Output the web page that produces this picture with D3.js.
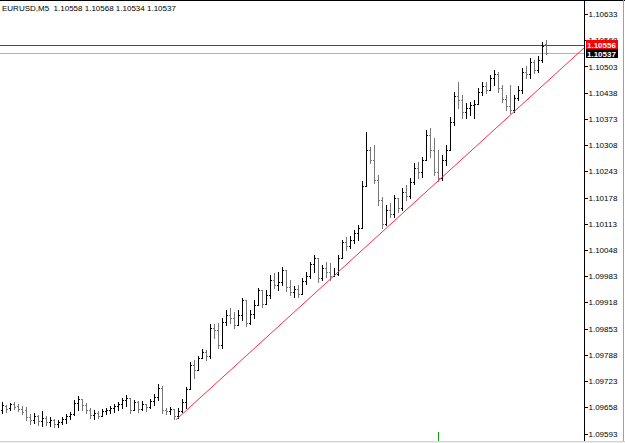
<!DOCTYPE html>
<html>
<head>
<meta charset="utf-8">
<script src="https://cdn.jsdelivr.net/npm/d3@7"></script>
<style>
  body { margin: 0; background: #fff; }
  svg { display: block; }
  text { font-family: "Liberation Sans", Arial, sans-serif; }
</style>
</head>
<body>
<script>
// EURUSD M5 bars
const symbol = "EURUSD,M5";

const opens = [
  1.09651, 1.09661, 1.09656, 1.09666, 1.09661, 1.09654, 1.09651, 1.09634, 1.09626, 1.09636,
  1.09624, 1.09631, 1.09621, 1.09626, 1.09617, 1.09621, 1.09629, 1.09636, 1.09641, 1.09669,
  1.09678, 1.09664, 1.09651, 1.09639, 1.09644, 1.09636, 1.09649, 1.09651, 1.09656, 1.09661,
  1.09666, 1.09676, 1.09681, 1.09651, 1.09671, 1.09654, 1.09666, 1.09659, 1.09673, 1.09683,
  1.09706, 1.09651, 1.09649, 1.09654, 1.09636, 1.09649, 1.09671, 1.09703, 1.09763, 1.09750,
  1.09780, 1.09795, 1.09785, 1.09855, 1.09850, 1.09812, 1.09869, 1.09887, 1.09879, 1.09862,
  1.09887, 1.09924, 1.09867, 1.09889, 1.09912, 1.09949, 1.09914, 1.09936, 1.09974, 1.09961,
  1.09969, 1.09998, 1.09956, 1.09944, 1.09951, 1.09939, 1.09971, 1.09983, 1.10013, 1.10028,
  1.09979, 1.10003, 1.09993, 1.09983, 1.09988, 1.10028, 1.10068, 1.10058, 1.10073, 1.10090,
  1.10103, 1.10207, 1.10296, 1.10271, 1.10222, 1.10172, 1.10112, 1.10147, 1.10137, 1.10177,
  1.10152, 1.10192, 1.10182, 1.10217, 1.10251, 1.10241, 1.10271, 1.10333, 1.10296, 1.10241,
  1.10227, 1.10271, 1.10296, 1.10365, 1.10430, 1.10420, 1.10390, 1.10400, 1.10408, 1.10410,
  1.10440, 1.10455, 1.10445, 1.10475, 1.10484, 1.10450, 1.10422, 1.10405, 1.10395, 1.10425,
  1.10445, 1.10489, 1.10484, 1.10514, 1.10494, 1.10519, 1.10558
];
const highs = [
  1.09671, 1.09664, 1.09669, 1.09671, 1.09666, 1.09661, 1.09659, 1.09641, 1.09644, 1.09639,
  1.09649, 1.09636, 1.09634, 1.09629, 1.09626, 1.09634, 1.09641, 1.09646, 1.09676, 1.09686,
  1.09678, 1.09669, 1.09656, 1.09651, 1.09649, 1.09654, 1.09656, 1.09661, 1.09666, 1.09671,
  1.09681, 1.09688, 1.09681, 1.09676, 1.09673, 1.09673, 1.09666, 1.09678, 1.09691, 1.09716,
  1.09711, 1.09656, 1.09659, 1.09654, 1.09656, 1.09678, 1.09708, 1.09770, 1.09775, 1.09785,
  1.09803, 1.09800, 1.09865, 1.09865, 1.09867, 1.09879, 1.09899, 1.09904, 1.09894, 1.09899,
  1.09929, 1.09924, 1.09899, 1.09924, 1.09954, 1.09949, 1.09949, 1.09986, 1.09991, 1.09993,
  1.10006, 1.09998, 1.09974, 1.09959, 1.09961, 1.09979, 1.09993, 1.10018, 1.10036, 1.10028,
  1.10011, 1.10018, 1.10016, 1.10003, 1.10036, 1.10073, 1.10080, 1.10083, 1.10098, 1.10110,
  1.10219, 1.10341, 1.10303, 1.10308, 1.10234, 1.10179, 1.10160, 1.10165, 1.10184, 1.10177,
  1.10202, 1.10209, 1.10227, 1.10264, 1.10266, 1.10279, 1.10346, 1.10351, 1.10326, 1.10296,
  1.10284, 1.10308, 1.10378, 1.10440, 1.10465, 1.10432, 1.10413, 1.10415, 1.10420, 1.10450,
  1.10465, 1.10465, 1.10482, 1.10494, 1.10489, 1.10457, 1.10432, 1.10457, 1.10432, 1.10455,
  1.10499, 1.10504, 1.10524, 1.10519, 1.10529, 1.10564, 1.10568
];
const lows = [
  1.09644, 1.09646, 1.09651, 1.09654, 1.09649, 1.09641, 1.09626, 1.09617, 1.09619, 1.09614,
  1.09612, 1.09614, 1.09612, 1.09609, 1.09609, 1.09617, 1.09619, 1.09629, 1.09639, 1.09651,
  1.09651, 1.09644, 1.09631, 1.09629, 1.09631, 1.09636, 1.09641, 1.09644, 1.09646, 1.09651,
  1.09656, 1.09661, 1.09644, 1.09651, 1.09646, 1.09651, 1.09649, 1.09656, 1.09664, 1.09676,
  1.09644, 1.09641, 1.09641, 1.09629, 1.09631, 1.09646, 1.09656, 1.09703, 1.09731, 1.09750,
  1.09780, 1.09775, 1.09780, 1.09830, 1.09805, 1.09805, 1.09862, 1.09867, 1.09855, 1.09862,
  1.09874, 1.09860, 1.09865, 1.09879, 1.09912, 1.09907, 1.09914, 1.09929, 1.09954, 1.09949,
  1.09961, 1.09946, 1.09936, 1.09931, 1.09931, 1.09939, 1.09964, 1.09979, 1.09993, 1.09969,
  1.09974, 1.09981, 1.09974, 1.09983, 1.09986, 1.10028, 1.10048, 1.10053, 1.10065, 1.10073,
  1.10103, 1.10207, 1.10264, 1.10214, 1.10160, 1.10103, 1.10110, 1.10130, 1.10130, 1.10142,
  1.10147, 1.10172, 1.10177, 1.10212, 1.10227, 1.10229, 1.10271, 1.10279, 1.10234, 1.10219,
  1.10222, 1.10259, 1.10296, 1.10358, 1.10400, 1.10375, 1.10375, 1.10383, 1.10375, 1.10410,
  1.10432, 1.10437, 1.10445, 1.10457, 1.10440, 1.10415, 1.10395, 1.10388, 1.10390, 1.10420,
  1.10437, 1.10475, 1.10475, 1.10487, 1.10489, 1.10514, 1.10534
];
const closes = [
  1.09664, 1.09654, 1.09666, 1.09659, 1.09654, 1.09646, 1.09634, 1.09626, 1.09636, 1.09624,
  1.09631, 1.09621, 1.09626, 1.09617, 1.09621, 1.09629, 1.09636, 1.09641, 1.09669, 1.09678,
  1.09664, 1.09651, 1.09639, 1.09644, 1.09636, 1.09649, 1.09651, 1.09656, 1.09661, 1.09666,
  1.09676, 1.09681, 1.09651, 1.09671, 1.09654, 1.09666, 1.09659, 1.09673, 1.09683, 1.09706,
  1.09651, 1.09649, 1.09654, 1.09636, 1.09649, 1.09671, 1.09703, 1.09763, 1.09750, 1.09780,
  1.09795, 1.09785, 1.09855, 1.09850, 1.09812, 1.09869, 1.09887, 1.09879, 1.09862, 1.09887,
  1.09924, 1.09867, 1.09889, 1.09912, 1.09949, 1.09914, 1.09936, 1.09974, 1.09961, 1.09969,
  1.09998, 1.09956, 1.09944, 1.09951, 1.09939, 1.09971, 1.09983, 1.10013, 1.10028, 1.09979,
  1.10003, 1.09993, 1.09983, 1.09988, 1.10028, 1.10068, 1.10058, 1.10073, 1.10090, 1.10103,
  1.10207, 1.10296, 1.10271, 1.10222, 1.10172, 1.10112, 1.10147, 1.10137, 1.10177, 1.10152,
  1.10192, 1.10182, 1.10217, 1.10251, 1.10241, 1.10271, 1.10333, 1.10296, 1.10241, 1.10227,
  1.10271, 1.10296, 1.10365, 1.10430, 1.10420, 1.10390, 1.10400, 1.10408, 1.10410, 1.10440,
  1.10455, 1.10445, 1.10475, 1.10484, 1.10450, 1.10422, 1.10405, 1.10395, 1.10425, 1.10445,
  1.10489, 1.10484, 1.10514, 1.10494, 1.10519, 1.10554, 1.10537
];

// price scale labels
const priceTicks = [
  1.10633, 1.10568, 1.10503, 1.10438, 1.10373, 1.10308, 1.10243, 1.10178, 1.10113,
  1.10048, 1.09983, 1.09918, 1.09853, 1.09788, 1.09723, 1.09658, 1.09593
];

const askPrice = 1.10556;
const bidPrice = 1.10537;

// trend line anchors (bar index, price), drawn as a ray to the right
const trendIdx = [43.5, 109];
const trendPrice = [1.09627, 1.10219];

// green marker at the bottom
const markerIdx = 109;

const W = 625, H = 443;
const axisX = 584;      // price scale line
const plotBottom = 441;

var svg = d3.select("body")
    .append("svg")
    .attr("width", W)
    .attr("height", H)
    .attr("shape-rendering", "crispEdges");

svg.append("rect").attr("width", W).attr("height", H).attr("fill", "#fff");

// scales
var x = d3.scaleLinear()
    .domain([0, closes.length - 1])
    .range([2, 546]);

var y = d3.scaleLinear()
    .domain([priceTicks[priceTicks.length - 1], priceTicks[0]])
    .range([433.5, 14]);

const px = v => Math.round(x(v));
const py = v => Math.round(y(v));

// bid line (grey) and ask line (red)
svg.append("rect")
    .attr("x", 0).attr("width", axisX)
    .attr("y", py(bidPrice)).attr("height", 1)
    .attr("fill", "#b4b4b4");

svg.append("rect")
    .attr("x", 0).attr("width", axisX)
    .attr("y", py(askPrice)).attr("height", 1)
    .attr("fill", "#ff0000");

// OHLC bars
let bars = d3.range(closes.length).map(i => ({
    i: i, o: opens[i], h: highs[i], l: lows[i], c: closes[i]
}));

let barG = svg.append("g");
bars.forEach(d => {
    let color = d.c >= d.o ? "#000000" : "#787878";
    let bx = px(d.i);
    let top = py(d.h), bot = py(d.l);
    barG.append("rect")
        .attr("x", bx).attr("y", top)
        .attr("width", 1).attr("height", Math.max(1, bot - top + 1))
        .attr("fill", color);
    barG.append("rect")
        .attr("x", bx - 1).attr("y", py(d.o))
        .attr("width", 1).attr("height", 1)
        .attr("fill", color);
    barG.append("rect")
        .attr("x", bx + 1).attr("y", py(d.c))
        .attr("width", 1).attr("height", 1)
        .attr("fill", color);
});

// trend line, extended to the price scale
let slope = (trendPrice[1] - trendPrice[0]) / (trendIdx[1] - trendIdx[0]);
let endIdx = x.invert(axisX);
svg.append("line")
    .attr("x1", x(trendIdx[0])).attr("y1", y(trendPrice[0]))
    .attr("x2", x(endIdx)).attr("y2", y(trendPrice[0] + slope * (endIdx - trendIdx[0])))
    .attr("stroke", "#ff2a48")
    .attr("stroke-width", 1)
    .attr("shape-rendering", "auto");

// green marker
svg.append("rect")
    .attr("x", px(markerIdx)).attr("y", 432)
    .attr("width", 1).attr("height", plotBottom - 432)
    .attr("fill", "#0c9a0c");

// price axis
var axis = svg.append("g")
    .attr("transform", "translate(" + (axisX + 0.5) + ",0)")
    .call(d3.axisRight(y)
        .tickValues(priceTicks)
        .tickSize(3)
        .tickPadding(1)
        .tickFormat(d3.format(".5f")));
axis.select(".domain").remove();
axis.selectAll("line").attr("stroke", "#000");
axis.selectAll("text")
    .attr("fill", "#000")
    .style("font-size", "8px")
    .style("font-family", "'Liberation Sans', Arial, sans-serif");

svg.append("line")
    .attr("x1", axisX + 0.5).attr("x2", axisX + 0.5)
    .attr("y1", 0).attr("y2", plotBottom)
    .attr("stroke", "#000");

// ask / bid labels on the scale
function priceBox(price, fill, yTop) {
    svg.append("rect")
        .attr("x", axisX + 2).attr("y", yTop)
        .attr("width", 32).attr("height", 9)
        .attr("fill", fill);
    svg.append("text")
        .attr("x", axisX + 3).attr("y", yTop + 8)
        .attr("fill", "#fff")
        .style("font-size", "8px")
        .style("font-weight", "bold")
        .text(d3.format(".5f")(price));
}
priceBox(askPrice, "#ff0000", py(askPrice) - 5);
priceBox(bidPrice, "#000000", py(bidPrice) - 4);

// frame
svg.append("line").attr("x1", 0).attr("x2", W).attr("y1", 0.5).attr("y2", 0.5).attr("stroke", "#000");
svg.append("line").attr("x1", W - 1.5).attr("x2", W - 1.5).attr("y1", 0).attr("y2", H).attr("stroke", "#a0a0a0");
svg.append("rect").attr("x", 0).attr("y", plotBottom).attr("width", W).attr("height", H - plotBottom).attr("fill", "#ececec");
svg.append("line").attr("x1", 0).attr("x2", W).attr("y1", plotBottom + 0.5).attr("y2", plotBottom + 0.5).attr("stroke", "#d4d4d4");

// header
svg.append("text")
    .attr("x", 2).attr("y", 10.5)
    .attr("fill", "#000")
    .style("font-size", "8px")
    .style("white-space", "pre")
    .text(symbol + "  " + [opens, highs, lows, closes].map(a => d3.format(".5f")(a[a.length - 1])).join(" "));
</script>
</body>
</html>
